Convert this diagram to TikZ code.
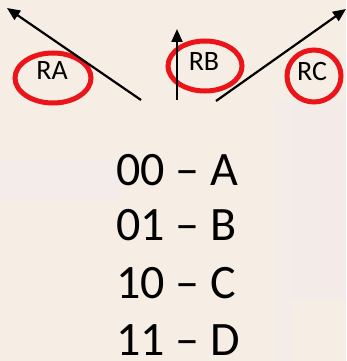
\documentclass[tikz,border=0pt]{standalone}
\usepackage{fontspec}
\setmainfont{Carlito}
\usetikzlibrary{arrows.meta}
\definecolor{paper}{RGB}{246,238,228}
\definecolor{hazeA}{RGB}{242,235,240}
\definecolor{hazeB}{RGB}{240,234,236}
\definecolor{ringred}{RGB}{235,20,25}
\tikzset{
  ring/.style={draw=ringred, line width=5pt},
  regname/.style={font=\fontsize{28}{28}\selectfont, inner sep=0pt},
  coderow/.style={font=\fontsize{48}{48}\selectfont, inner sep=0pt, anchor=base west},
  pointer/.style={line width=2.2pt, -{Triangle[length=13pt,width=11pt]}},
}
\begin{document}
\begin{tikzpicture}[x=1pt,y=-1pt]
  % backdrop
  \fill[paper] (0,0) rectangle (346,361);
  \fill[hazeA, opacity=0.5] (0,160) rectangle (120,200);
  \fill[hazeB, opacity=0.6] (290,100) rectangle (346,300);
  \fill[hazeA, opacity=0.4] (275,100) rectangle (292,361);
  \useasboundingbox (0,0) rectangle (346,361);

  % register labels
  \node[regname] (ra) at (52,71) {RA};
  \node[regname] (rb) at (204,62) {RB};
  \node[regname] (rc) at (312,72) {RC};

  % red rings around the labels
  \draw[ring] (53,78) ellipse [x radius=38, y radius=25];
  \draw[ring] (205,66) ellipse [x radius=37, y radius=25];
  \draw[ring] (314,76) ellipse [x radius=27, y radius=26];

  % pointer arrows
  \coordinate (a0) at (141,100); \coordinate (a1) at (7,8);
  \coordinate (b0) at (177,100); \coordinate (b1) at (177,29);
  \coordinate (c0) at (216,101); \coordinate (c1) at (346,9);
  \draw[pointer] (a0) -- (a1);
  \draw[pointer] (b0) -- (b1);
  \draw[pointer] (c0) -- (c1);

  % code table
  \node[coderow] (r00) at (116,185) {00 – A};
  \node[coderow] (r01) at (116,240) {01 – B};
  \node[coderow] (r10) at (116,298) {10 – C};
  \node[coderow] (r11) at (116,355) {11 – D};
\end{tikzpicture}
\end{document}
